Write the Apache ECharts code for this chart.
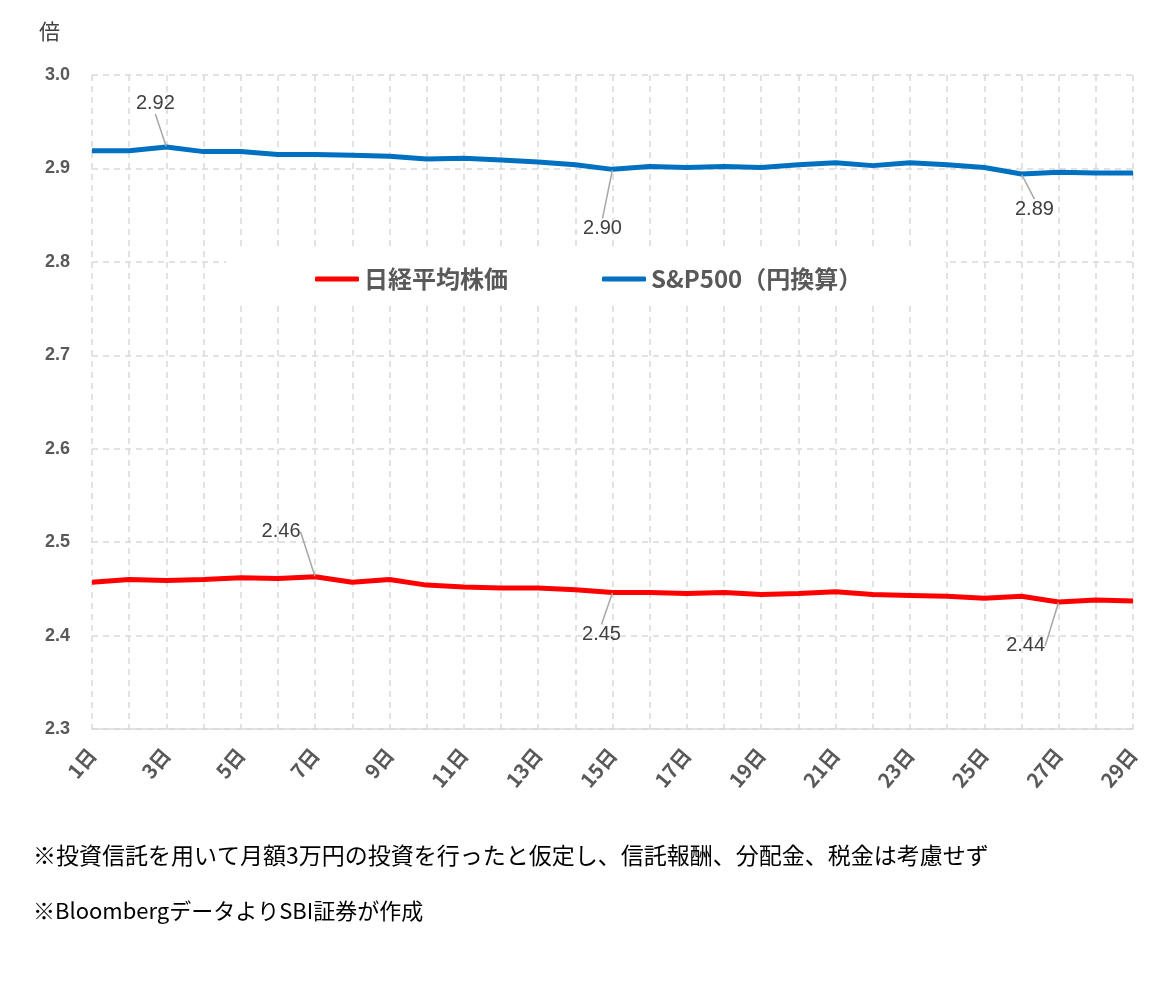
<!DOCTYPE html>
<html lang="ja">
<head>
<meta charset="UTF-8">
<title>積立倍率</title>
<script src="https://cdn.jsdelivr.net/npm/echarts@6/dist/echarts.min.js"></script>
<style>
  html, body { margin: 0; padding: 0; background: #fff; }
  #main { width: 1162px; height: 987px; }
</style>
</head>
<body>
<div id="main"></div>
<script>
// 日付（カテゴリ）
var days = ['1日', '2日', '3日', '4日', '5日', '6日', '7日', '8日', '9日', '10日',
  '11日', '12日', '13日', '14日', '15日', '16日', '17日', '18日', '19日', '20日',
  '21日', '22日', '23日', '24日', '25日', '26日', '27日', '28日', '29日'];

// 日経平均株価（倍）
var nikkei = [2.457, 2.460, 2.459, 2.460, 2.462, 2.461, 2.463, 2.457, 2.460, 2.454,
  2.452, 2.451, 2.451, 2.449, 2.446, 2.446, 2.445, 2.446, 2.444, 2.445,
  2.447, 2.444, 2.443, 2.442, 2.440, 2.442, 2.436, 2.438, 2.437];

// S&P500（円換算）（倍）
var sp500 = [2.919, 2.919, 2.923, 2.918, 2.918, 2.915, 2.915, 2.914, 2.913, 2.910,
  2.911, 2.909, 2.907, 2.904, 2.899, 2.902, 2.901, 2.902, 2.901, 2.904,
  2.906, 2.903, 2.906, 2.904, 2.901, 2.894, 2.896, 2.895, 2.895];

var yTicks = ['2.3', '2.4', '2.5', '2.6', '2.7', '2.8', '2.9', '3.0'];

// 数値ラベルを付ける点（0始まりの添字）
var nikkeiNotes = [6, 14, 26];
var sp500Notes = [2, 14, 25];

var notes = [
  { names: nikkeiNotes, offsets: [[-34, -45], [-11, 42], [-33, 44]] },
  { names: sp500Notes, offsets: [[-11, -43], [-10, 59], [13, 35]] }
];

function withLabels(values, idx) {
  return values.map(function (v, i) {
    if (idx.indexOf(i) >= 0) return { value: v, label: { show: true } };
    return v;
  });
}

var myChart = echarts.init(document.getElementById('main'));

var gridLine = { show: true, lineStyle: { color: '#d9d9d9', width: 1.5, type: [6, 5] } };

var option = {
  backgroundColor: '#fff',
  animation: false,
  grid: { left: 92, right: 29, top: 75, bottom: 258 },
  legend: {
    left: 226, top: 250,
    padding: [17, 82, 11, 89],
    backgroundColor: '#fff',
    itemGap: 94,
    itemWidth: 44, itemHeight: 5,
    textStyle: { fontFamily: 'Noto Sans CJK JP', fontSize: 24, fontWeight: 'bold', color: '#595959' },
    data: [
      { name: '日経平均株価', icon: 'roundRect' },
      { name: 'S&P500（円換算）', icon: 'roundRect' }
    ]
  },
  xAxis: {
    type: 'category',
    data: days,
    boundaryGap: false,
    axisLine: { lineStyle: { color: '#d9d9d9', width: 1.5 } },
    axisTick: { show: false },
    axisLabel: {
      interval: 1, rotate: 50, margin: 22,
      fontFamily: 'Noto Sans CJK JP', fontSize: 20, fontWeight: 'bold', color: '#595959'
    },
    splitLine: Object.assign({ interval: 0 }, gridLine)
  },
  yAxis: {
    type: 'value',
    min: 2.3, max: 3.0, interval: 0.1,
    axisLine: { show: false },
    axisTick: { show: false },
    axisLabel: {
      margin: 22,
      fontFamily: 'Liberation Sans', fontSize: 18, fontWeight: 'bold', color: '#595959',
      formatter: function (v) { return v.toFixed(1); }
    },
    splitLine: gridLine
  },
  series: [
    {
      name: '日経平均株価',
      type: 'line',
      data: withLabels(nikkei, nikkeiNotes),
      symbol: 'circle', symbolSize: 1, showSymbol: true, showAllSymbol: true,
      itemStyle: { color: '#ff0000' },
      lineStyle: { color: '#ff0000', width: 5 },
      label: {
        show: false,
        fontFamily: 'Liberation Sans', fontSize: 20, color: '#404040',
        formatter: function (p) { return p.value.toFixed(2); }
      },
      labelLine: { show: true, lineStyle: { color: '#a6a6a6', width: 1.5 } }
    },
    {
      name: 'S&P500（円換算）',
      type: 'line',
      data: withLabels(sp500, sp500Notes),
      symbol: 'circle', symbolSize: 1, showSymbol: true, showAllSymbol: true,
      itemStyle: { color: '#0070c0' },
      lineStyle: { color: '#0070c0', width: 5 },
      label: {
        show: false,
        fontFamily: 'Liberation Sans', fontSize: 20, color: '#404040',
        formatter: function (p) { return p.value.toFixed(2); }
      },
      labelLine: { show: true, lineStyle: { color: '#a6a6a6', width: 1.5 } }
    }
  ],
  labelLayout: function (params) {
    var n = notes[params.seriesIndex];
    var k = n.names.indexOf(params.dataIndex);
    if (k < 0) return {};
    var r = params.rect;
    return {
      x: r.x + r.width / 2 + n.offsets[k][0],
      y: r.y + r.height / 2 + n.offsets[k][1],
      align: 'center', verticalAlign: 'middle'
    };
  },
  graphic: [
    { type: 'text', left: 39, top: 21, style: { text: '倍', fontFamily: 'Noto Sans CJK JP', fontSize: 21, fill: '#404040' } },
    { type: 'text', left: 33, top: 844, style: { text: '※投資信託を用いて月額3万円の投資を行ったと仮定し、信託報酬、分配金、税金は考慮せず', fontFamily: 'Noto Sans CJK JP', fontSize: 23, fill: '#000' } },
    { type: 'text', left: 33, top: 900, style: { text: '※BloombergデータよりSBI証券が作成', fontFamily: 'Noto Sans CJK JP', fontSize: 22, fill: '#000' } }
  ]
};

myChart.setOption(option);
</script>
</body>
</html>
